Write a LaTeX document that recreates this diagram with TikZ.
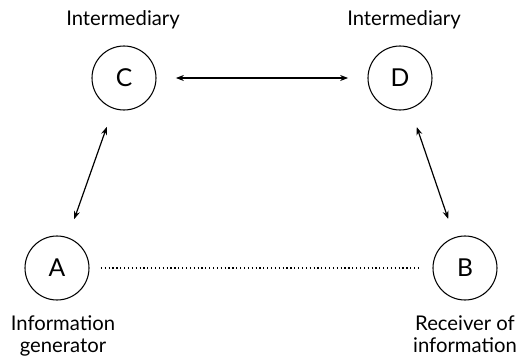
\documentclass[tikz,border=0pt]{standalone}
\usepackage{fontspec}
\setmainfont{Lato}
\usepackage{tikz}
\usetikzlibrary{arrows.meta}
\tikzset{party/.style={circle, draw, line width=.8pt, minimum size=48pt, inner sep=0pt, font=\fontsize{18.5}{20}\selectfont},
    role/.style={inner sep=0pt, align=center, font=\fontsize{15.2}{16.5}\selectfont},
    link/.style={line width=.9pt, {Stealth[length=6pt,width=4.5pt]}-{Stealth[length=6pt,width=4.5pt]}, shorten <=14.5pt, shorten >=14.5pt},
    weak/.style={line width=.9pt, dotted, shorten <=8.5pt, shorten >=8.5pt}}

\begin{document}
\begin{tikzpicture}[x=.75pt, y=-.75pt]
        \useasboundingbox (0,0) rectangle (526,361);
        \node[party] (C) at (124,78) {C};
        \node[party] (D) at (400,78) {D};
        \node[party] (A) at (57,268) {A};
        \node[party] (B) at (465,268) {B};
        \node[role, anchor=base] (labC) at (123,25) {Intermediary};
        \node[role, anchor=base] (labD) at (404,25) {Intermediary};
        \node[role, anchor=north] (labA) at (63,315) {Information\\generator};
        \node[role, anchor=north] (labB) at (465,315) {Receiver of\\information};
        \draw[link] (C) -- (D);
        \draw[link] (C) -- (A);
        \draw[link] (D) -- (B);
        \draw[weak] (A) -- (B);
    \end{tikzpicture}
\end{document}
